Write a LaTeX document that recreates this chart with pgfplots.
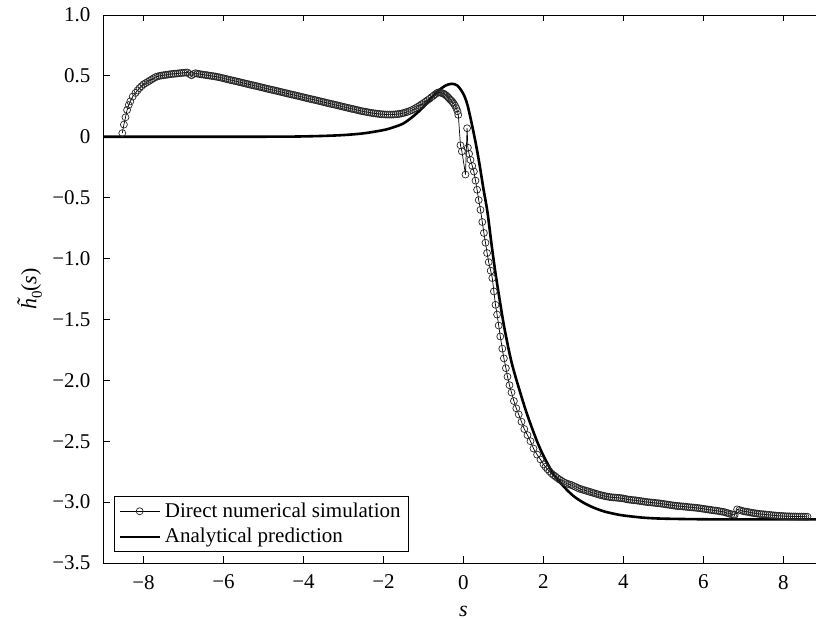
\documentclass[border=0pt]{standalone}
\usepackage{fontspec}
\setmainfont{Liberation Serif}
\usepackage{pgfplots}
\pgfplotsset{compat=1.18}
\begin{document}
\begin{tikzpicture}
\begin{axis}[
  scale only axis,
  width=360pt, height=274pt,
  xmin=-9, xmax=9, ymin=-3.5, ymax=1.0,
  xtick={-8,-6,...,8},
  xticklabels={−8,−6,−4,−2,0,2,4,6,8},
  ytick={-3.5,-3,-2.5,-2,-1.5,-1,-0.5,0,0.5,1},
  yticklabels={−3.5,−3.0,−2.5,−2.0,−1.5,−1.0,−0.5,0,0.5,1.0},
  tick align=inside, tick pos=both,
  major tick length=3.25pt,
  tick style={black, line width=0.4pt},
  axis line style={black, line width=0.4pt},
  ticklabel style={font=\fontsize{10.5}{12}\selectfont},
  yticklabel style={xshift=-3pt},
  xticklabel style={yshift=-2.5pt},
  xlabel={\textit{s}},
  ylabel={\textit{\accent"02DC h}\raisebox{-0.25em}{\fontsize{7.5}{9}\selectfont 0}(\textit{s})},
  label style={font=\fontsize{11}{12}\selectfont},
  xlabel style={at={([yshift=-21.5pt]axis description cs:0.5,0)}, anchor=north, inner sep=0pt},
  ylabel style={at={([xshift=-30.5pt]axis description cs:0,0.5)}, anchor=south, inner sep=0pt},
  legend style={at={(axis description cs:0,0)}, anchor=south west, xshift=5.25pt, yshift=5.5pt,
    draw=black, line width=0.4pt, inner xsep=2pt, inner ysep=1pt,
    font=\fontsize{10.5}{12.5}\selectfont, cells={anchor=west}},
  legend cell align=left,
  legend image code/.code={\draw[mark repeat=2,mark phase=2,#1] plot coordinates {(0pt,0pt) (10pt,0pt) (20pt,0pt)};},
]
\coordinate (SW) at (rel axis cs:0,0);
\addplot[black, line width=0.35pt, mark=o, mark size=1.75pt, mark options={line width=0.35pt, black!85}] coordinates {
(-8.53,0.03) (-8.49,0.10) (-8.45,0.16) (-8.41,0.22) (-8.37,0.26) (-8.33,0.29) (-8.27,0.33) (-8.2,0.36)
(-8.15,0.38) (-8.1,0.40) (-8.05,0.415)
(-8.0,0.43) (-7.95,0.44) (-7.9,0.45) (-7.85,0.46) (-7.8,0.47) (-7.75,0.48) (-7.7,0.49) (-7.65,0.495)
(-7.6,0.50) (-7.55,0.503) (-7.5,0.505) (-7.45,0.508) (-7.4,0.51) (-7.35,0.513) (-7.3,0.515) (-7.25,0.517)
(-7.2,0.518) (-7.15,0.52) (-7.1,0.522) (-7.05,0.524) (-7.0,0.525) (-6.95,0.527) (-6.9,0.528) (-6.85,0.515)
(-6.8,0.505) (-6.75,0.515) (-6.7,0.522) (-6.65,0.518) (-6.6,0.515) (-6.55,0.512) (-6.5,0.51) (-6.45,0.507)
(-6.4,0.505) (-6.35,0.502) (-6.3,0.50) (-6.25,0.497) (-6.2,0.495) (-6.15,0.491) (-6.1,0.488) (-6.05,0.484)
(-6.0,0.48) (-5.95,0.476) (-5.9,0.472) (-5.85,0.468) (-5.8,0.464) (-5.75,0.461) (-5.7,0.457) (-5.65,0.453)
(-5.6,0.449) (-5.55,0.445) (-5.5,0.441) (-5.45,0.437) (-5.4,0.433) (-5.35,0.429) (-5.3,0.425) (-5.25,0.422)
(-5.2,0.418) (-5.15,0.414) (-5.1,0.410) (-5.05,0.406) (-5.0,0.402) (-4.95,0.398) (-4.9,0.394) (-4.85,0.390)
(-4.8,0.386) (-4.75,0.383) (-4.7,0.379) (-4.65,0.375) (-4.6,0.371) (-4.55,0.367) (-4.5,0.363) (-4.45,0.359)
(-4.4,0.355) (-4.35,0.351) (-4.3,0.347) (-4.25,0.344) (-4.2,0.340) (-4.15,0.336) (-4.1,0.332) (-4.05,0.328)
(-4.0,0.324) (-3.95,0.320) (-3.9,0.316) (-3.85,0.312) (-3.8,0.308) (-3.75,0.305) (-3.7,0.301) (-3.65,0.297)
(-3.6,0.293) (-3.55,0.289) (-3.5,0.285) (-3.45,0.281) (-3.4,0.277) (-3.35,0.273) (-3.3,0.269) (-3.25,0.266)
(-3.2,0.262) (-3.15,0.258) (-3.1,0.254) (-3.05,0.250) (-3.0,0.246) (-2.95,0.242) (-2.9,0.238) (-2.85,0.234)
(-2.8,0.230) (-2.75,0.227) (-2.7,0.223) (-2.65,0.219) (-2.6,0.215) (-2.55,0.211) (-2.5,0.208) (-2.45,0.205)
(-2.4,0.202) (-2.35,0.199) (-2.3,0.196) (-2.25,0.193) (-2.2,0.191) (-2.15,0.189) (-2.1,0.187) (-2.05,0.185)
(-2.0,0.184) (-1.95,0.183) (-1.9,0.182) (-1.85,0.182) (-1.8,0.182) (-1.75,0.183) (-1.7,0.184) (-1.65,0.186)
(-1.6,0.188) (-1.55,0.191) (-1.5,0.195) (-1.45,0.200) (-1.4,0.205) (-1.35,0.211) (-1.3,0.218) (-1.25,0.226)
(-1.2,0.235) (-1.15,0.245) (-1.1,0.255) (-1.05,0.266) (-1.0,0.277) (-0.95,0.288) (-0.9,0.30) (-0.85,0.312)
(-0.8,0.325) (-0.75,0.338) (-0.7,0.35) (-0.66,0.36) (-0.62,0.365) (-0.58,0.363) (-0.55,0.36) (-0.51,0.356)
(-0.48,0.35) (-0.45,0.343) (-0.42,0.335) (-0.39,0.325) (-0.36,0.315) (-0.33,0.305) (-0.3,0.295) (-0.27,0.283)
(-0.24,0.27) (-0.21,0.255) (-0.18,0.235) (-0.15,0.21) (-0.13,0.18)
(-0.075,-0.07) (-0.04,-0.12) (0.05,-0.31) (0.09,0.07) (0.11,-0.09) (0.14,-0.14)
(0.175,-0.19) (0.22,-0.24) (0.26,-0.285) (0.30,-0.36) (0.34,-0.435) (0.38,-0.52) (0.425,-0.60) (0.47,-0.70)
(0.51,-0.79) (0.55,-0.87) (0.59,-0.955) (0.63,-1.03) (0.68,-1.10) (0.72,-1.16) (0.76,-1.27) (0.80,-1.38)
(0.84,-1.46) (0.88,-1.55) (0.92,-1.64) (0.97,-1.74) (1.01,-1.82) (1.06,-1.90) (1.10,-1.97) (1.15,-2.04)
(1.20,-2.10) (1.26,-2.17) (1.32,-2.23) (1.38,-2.28) (1.45,-2.34) (1.52,-2.40) (1.60,-2.45) (1.675,-2.50)
(1.75,-2.56) (1.84,-2.61) (1.925,-2.65)
(2.0,-2.69) (2.05,-2.71) (2.1,-2.73) (2.15,-2.748) (2.2,-2.765) (2.25,-2.778) (2.3,-2.79) (2.35,-2.803)
(2.4,-2.815) (2.45,-2.825) (2.5,-2.835) (2.55,-2.843) (2.6,-2.85) (2.65,-2.855) (2.7,-2.86) (2.75,-2.868)
(2.8,-2.875) (2.85,-2.883) (2.9,-2.89) (2.95,-2.895) (3.0,-2.90) (3.05,-2.905) (3.1,-2.91) (3.15,-2.915)
(3.2,-2.92) (3.25,-2.925) (3.3,-2.93) (3.35,-2.935) (3.4,-2.94) (3.45,-2.944) (3.5,-2.948) (3.55,-2.952)
(3.6,-2.955) (3.65,-2.958) (3.7,-2.96) (3.75,-2.962) (3.8,-2.963) (3.85,-2.965) (3.9,-2.966) (3.95,-2.968)
(4.0,-2.97) (4.05,-2.974) (4.1,-2.978) (4.15,-2.98) (4.2,-2.982) (4.25,-2.984) (4.3,-2.985) (4.35,-2.988)
(4.4,-2.99) (4.45,-2.993) (4.5,-2.995) (4.55,-2.998) (4.6,-3.0) (4.65,-3.002) (4.7,-3.003) (4.75,-3.005)
(4.8,-3.007) (4.85,-3.009) (4.9,-3.01) (4.95,-3.013) (5.0,-3.015) (5.05,-3.018) (5.1,-3.02) (5.15,-3.023)
(5.2,-3.025) (5.25,-3.028) (5.3,-3.03) (5.35,-3.032) (5.4,-3.033) (5.45,-3.035) (5.5,-3.036) (5.55,-3.038)
(5.6,-3.04) (5.65,-3.042) (5.7,-3.043) (5.75,-3.045) (5.8,-3.046) (5.85,-3.048) (5.9,-3.05) (5.95,-3.053)
(6.0,-3.055) (6.05,-3.058) (6.1,-3.06) (6.15,-3.063) (6.2,-3.065) (6.25,-3.068) (6.3,-3.07) (6.35,-3.072)
(6.4,-3.075) (6.45,-3.078) (6.5,-3.08) (6.55,-3.085) (6.6,-3.09) (6.65,-3.095) (6.7,-3.10) (6.75,-3.103)
(6.78,-3.105) (6.84,-3.06) (6.9,-3.065) (6.95,-3.07) (7.0,-3.075) (7.05,-3.078) (7.1,-3.08) (7.15,-3.084)
(7.2,-3.087) (7.25,-3.09) (7.3,-3.092) (7.35,-3.095) (7.4,-3.097) (7.45,-3.099) (7.5,-3.1) (7.55,-3.102)
(7.6,-3.103) (7.65,-3.105) (7.7,-3.107) (7.75,-3.109) (7.8,-3.11) (7.85,-3.112) (7.9,-3.113) (7.95,-3.114)
(8.0,-3.115) (8.05,-3.116) (8.1,-3.117) (8.15,-3.117) (8.2,-3.118) (8.25,-3.118) (8.3,-3.118) (8.35,-3.119)
(8.4,-3.119) (8.45,-3.119) (8.5,-3.119) (8.55,-3.12) (8.6,-3.12)
};
\addlegendentry{Direct numerical simulation}
\addplot[black, line width=1.3pt, smooth] coordinates {
(-9,0) (-6,0) (-4.5,0.001) (-4,0.003) (-3.5,0.007) (-3,0.014) (-2.5,0.028) (-2,0.055)
(-1.75,0.078) (-1.5,0.11) (-1.25,0.17) (-1,0.245) (-0.8,0.32) (-0.6,0.385) (-0.45,0.42) (-0.3,0.435)
(-0.15,0.42) (0,0.35) (0.1,0.26) (0.2,0.117) (0.3,-0.043) (0.4,-0.225) (0.5,-0.43) (0.6,-0.62)
(0.7,-0.88) (0.8,-1.12) (0.9,-1.33) (1.0,-1.53) (1.1,-1.70) (1.2,-1.85) (1.3,-1.97) (1.4,-2.08)
(1.55,-2.24) (1.7,-2.38) (1.85,-2.51) (2.0,-2.62) (2.25,-2.77) (2.5,-2.87) (2.75,-2.95) (3.0,-3.005)
(3.25,-3.045) (3.5,-3.075) (3.75,-3.095) (4.0,-3.11) (4.5,-3.128) (5,-3.136) (6,-3.141) (7,-3.1416) (9,-3.1416)
};
\addlegendentry{Analytical prediction}
\end{axis}
\pgfresetboundingbox
\path[use as bounding box] (SW) ++(-51.75pt,-28pt) rectangle ++(408pt,309.5pt);
\end{tikzpicture}
\end{document}
